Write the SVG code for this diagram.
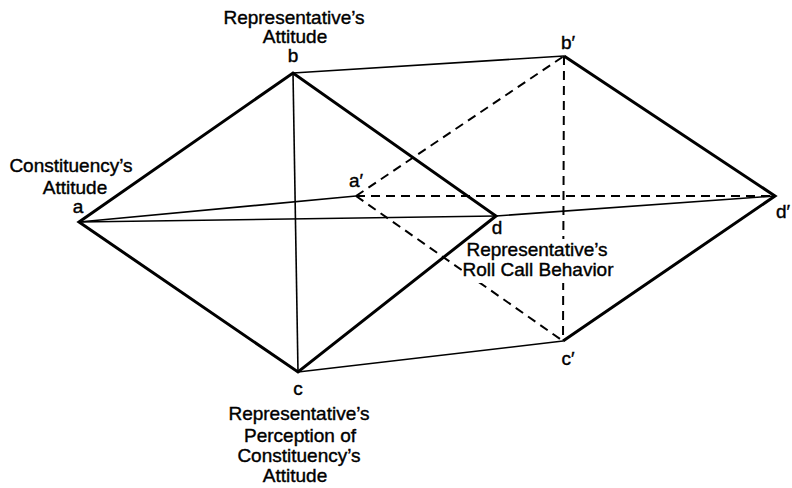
<svg xmlns="http://www.w3.org/2000/svg" width="792" height="488" viewBox="0 0 792 488">
<style>
.thick{stroke:#000;stroke-width:3;fill:none;stroke-linejoin:miter}
.thin{stroke:#000;stroke-width:1.6;fill:none}
.dash{stroke:#000;stroke-width:2;fill:none;stroke-dasharray:9 6}
.mask{fill:#fff;stroke:none}
text{font-family:"Liberation Sans","DejaVu Sans",sans-serif;font-size:19px;fill:#000;stroke:#000;stroke-width:0.4;text-anchor:middle}
</style>
<rect width="792" height="488" fill="#fff"/>
<g id="connectors">
<line class="thin" x1="79" y1="222" x2="496" y2="216"/>
<line class="thin" x1="79" y1="222" x2="356" y2="196"/>
<line class="thin" x1="293" y1="73" x2="298" y2="372"/>
<line class="thin" x1="293" y1="73" x2="564" y2="56"/>
<line class="thin" x1="298" y1="372" x2="563" y2="341"/>
<line class="thin" x1="496" y1="216" x2="775" y2="196"/>
<line class="dash" x1="356" y1="196" x2="564" y2="56"/>
<line class="dash" x1="356" y1="196" x2="775" y2="196"/>
<line class="dash" x1="356" y1="196" x2="563" y2="341"/>
<line class="dash" x1="564" y1="56" x2="563" y2="341"/>
<rect class="mask" x="462" y="239" width="158" height="44"/>
<path class="thick" d="M79,222 L293,73 L496,216 L298,372 Z"/>
<path class="thick" d="M564,56 L775,196 L563,341"/>
</g>
<g id="node-a">
<text x="71" y="172">Constituency’s</text>
<text x="75" y="194">Attitude</text>
<text x="78" y="213">a</text>
</g>
<g id="node-b">
<text x="294" y="24">Representative’s</text>
<text x="295" y="43">Attitude</text>
<text x="293" y="62">b</text>
</g>
<g id="node-c">
<text x="298" y="395">c</text>
<text x="299" y="420">Representative’s</text>
<text x="300" y="442">Perception of</text>
<text x="299" y="462">Constituency’s</text>
<text x="295" y="482">Attitude</text>
</g>
<g id="node-d">
<text x="497" y="234">d</text>
<text x="537" y="256">Representative’s</text>
<text x="538" y="276">Roll Call Behavior</text>
</g>
<g id="node-a-prime"><text x="356" y="187">a′</text></g>
<g id="node-b-prime"><text x="568" y="49">b′</text></g>
<g id="node-c-prime"><text x="568" y="365">c′</text></g>
<g id="node-d-prime"><text x="783" y="218">d′</text></g>
</svg>
